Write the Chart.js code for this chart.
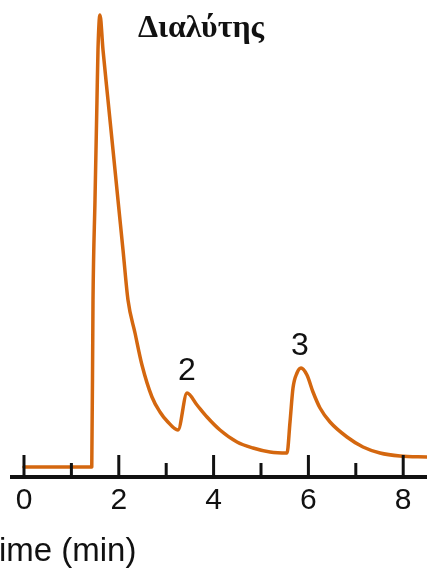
<!DOCTYPE html>
<html>
<head>
<meta charset="utf-8">
<script src="https://cdn.jsdelivr.net/npm/chart.js@4"></script>
<style>
  html, body { margin: 0; padding: 0; background: #fff; overflow: hidden; }
  #wrap { position: absolute; left: -30px; top: 0; width: 457px; height: 574px; }
</style>
</head>
<body>
<div id="wrap"><canvas id="grafica" width="457" height="574"></canvas></div>
<script>
// chromatogram trace
let tiempos = [0, 1.43, 1.456, 1.498, 1.54, 1.561, 1.603, 1.667, 1.772, 1.878, 1.983, 2.089, 2.194,
  2.342, 2.489, 2.7, 2.869, 3.017, 3.249,
  3.439, 3.65, 3.861, 4.135, 4.494, 4.831, 5.19, 5.549,
  5.612, 5.675, 5.759, 5.844, 5.97, 6.097, 6.245, 6.456, 6.814, 7.152, 7.511, 7.932, 8.502];
let senal = [0, 0, 16.7, 26.7, 36.7, 41.7, 45.2, 41.7, 36.7, 31.7, 26.7, 21.7, 16.7,
  13.4, 10.2, 7.0, 5.5, 4.6, 3.7,
  7.4, 6.2, 5.0, 3.7, 2.5, 1.9, 1.5, 1.4,
  4.5, 7.9, 9.4, 9.9, 9.2, 7.5, 5.9, 4.5, 3.0, 2.0, 1.4, 1.1, 1.0];

let tickValues = [0, 1, 2, 3, 4, 5, 6, 7, 8];

let picoNombres = ["Διαλύτης", "2", "3"];
let picoTiempos = [1.603, 3.439, 5.82];
let picoAlturas = [45.2, 7.4, 9.9];

let puntos = [];
for (let i = 0; i < tiempos.length; i++) {
  puntos.push({ x: tiempos[i], y: senal[i] });
}

const ejePlugin = {
  id: "ejeTicks",
  afterDatasetsDraw(chart) {
    let ctx = chart.ctx;
    let xs = chart.scales.x;
    let ys = chart.scales.y;
    let area = chart.chartArea;
    ctx.save();
    ctx.strokeStyle = "#111";
    ctx.lineWidth = 4;
    ctx.beginPath();
    ctx.moveTo(xs.getPixelForValue(-0.295), area.bottom);
    ctx.lineTo(area.right, area.bottom);
    ctx.stroke();
    ctx.lineWidth = 3;
    for (let i = 0; i < tickValues.length; i++) {
      let px = xs.getPixelForValue(tickValues[i]);
      let largo = tickValues[i] % 2 === 0 ? 22 : 14;
      ctx.beginPath();
      ctx.moveTo(px, area.bottom);
      ctx.lineTo(px, area.bottom - largo);
      ctx.stroke();
    }
    // peak labels
    ctx.fillStyle = "#111";
    ctx.textBaseline = "alphabetic";
    for (let i = 0; i < picoNombres.length; i++) {
      let px = xs.getPixelForValue(picoTiempos[i]);
      let py = ys.getPixelForValue(picoAlturas[i]);
      if (i === 0) {
        ctx.font = "bold 32px 'Liberation Serif'";
        ctx.textAlign = "left";
        ctx.fillText(picoNombres[i], px + 38, py + 22);
      } else {
        ctx.font = "32px 'Liberation Sans'";
        ctx.textAlign = "center";
        ctx.fillText(picoNombres[i], px, py - 13);
      }
    }
    ctx.restore();
  }
};

new Chart("grafica", {
  type: "line",
  data: {
    datasets: [
      {
        data: puntos,
        borderColor: "#d4670f",
        borderWidth: 3.5,
        pointRadius: 0,
        fill: false,
        cubicInterpolationMode: "monotone",
        borderJoinStyle: "round",
        borderCapStyle: "round",
      },
    ],
  },
  options: {
    responsive: false,
    animation: false,
    layout: { padding: { left: 10, right: 0, top: 0, bottom: 0 } },
    plugins: {
      legend: { display: false },
      tooltip: { enabled: false },
    },
    scales: {
      x: {
        type: "linear",
        min: -0.928,
        max: 8.502,
        grid: { display: false, drawTicks: false },
        border: { display: false },
        afterBuildTicks: (scale) => {
          scale.ticks = tickValues.map((v) => ({ value: v }));
        },
        afterFit: (scale) => {
          scale.height = 97;
        },
        ticks: {
          autoSkip: false,
          maxRotation: 0,
          padding: 6,
          color: "#111",
          font: { family: "'Liberation Sans'", size: 30 },
          callback: (v) => (v % 2 === 0 ? String(v) : ""),
        },
        title: {
          display: true,
          text: "Time (min)",
          align: "start",
          color: "#111",
          font: { family: "'Liberation Sans'", size: 33 },
          padding: { top: 0, bottom: 2 },
        },
      },
      y: {
        display: false,
        min: -1.0,
        max: 46.7,
      },
    },
  },
  plugins: [ejePlugin],
});
</script>
</body>
</html>
